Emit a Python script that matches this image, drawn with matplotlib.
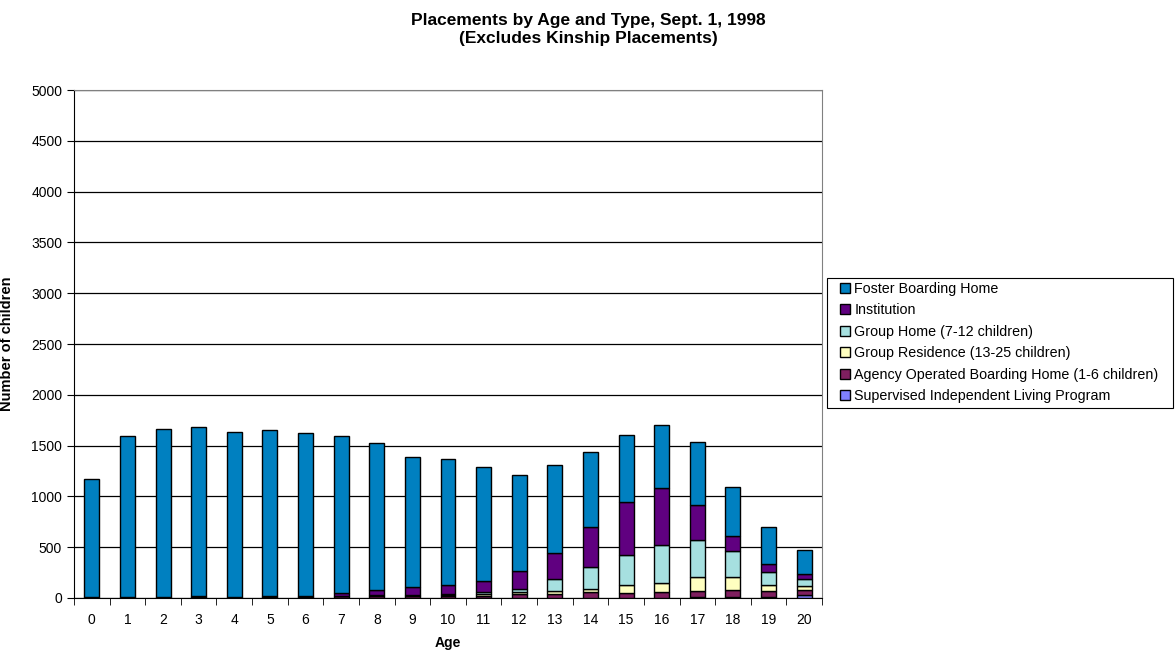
import numpy as np
import matplotlib.pyplot as plt
from matplotlib.patches import Rectangle

plt.rcParams['font.family'] = ['Liberation Sans', 'DejaVu Sans']

ages = list(range(21))

# children per placement type, ages 0..20
foster = [1163, 1582, 1655, 1665, 1627, 1635, 1598, 1537, 1455, 1280, 1235,
          1115, 945, 865, 745, 665, 620, 620, 475, 370, 240]
institution = [2, 3, 2, 5, 3, 8, 10, 30, 45, 75, 90,
               115, 180, 255, 390, 520, 555, 340, 155, 75, 45]
group_home = [0, 0, 0, 0, 0, 0, 0, 5, 5, 5, 10,
              20, 25, 120, 220, 295, 375, 365, 255, 130, 70]
group_residence = [0, 0, 0, 0, 0, 0, 0, 3, 5, 5, 10,
                   15, 20, 25, 30, 80, 95, 140, 125, 55, 45]
agency_home = [5, 10, 8, 10, 5, 12, 12, 15, 20, 20, 20,
               20, 40, 40, 55, 45, 55, 65, 75, 60, 50]
silp = [0, 0, 0, 0, 0, 0, 0, 0, 0, 0, 0,
        0, 0, 0, 0, 0, 0, 5, 5, 10, 25]

series = [
    ("Supervised Independent Living Program", silp, "#8080FF"),
    ("Agency Operated Boarding Home (1-6 children)", agency_home, "#7F1F5F"),
    ("Group Residence (13-25 children)", group_residence, "#FFFFC0"),
    ("Group Home (7-12 children)", group_home, "#A6E0E0"),
    ("Institution", institution, "#600080"),
    ("Foster Boarding Home", foster, "#0080C0"),
]

fig = plt.figure(figsize=(11.76, 6.58), dpi=100)
ax = fig.add_axes([0.0629, 0.0912, 0.6361, 0.772])

x = np.arange(len(ages))
bottom = np.zeros(len(ages))
handles = []
for name, vals, color in series:
    vals = np.array(vals, dtype=float)
    b = ax.bar(x, vals, width=0.42, bottom=bottom, color=color,
               edgecolor="black", linewidth=1.0, label=name, zorder=3)
    handles.append(b)
    bottom += vals

ax.set_ylim(0, 5000)
ax.set_xlim(-0.5, 20.5)
ax.set_yticks(np.arange(0, 5001, 500))
ax.yaxis.grid(True, color="black", linewidth=0.9, zorder=0)

ax.set_xticks(x)
ax.set_xticklabels([str(a) for a in ages], fontsize=10)
ax.set_xticks(np.arange(-0.5, 21, 1), minor=True)
ax.tick_params(axis="x", which="major", length=0, pad=11)
ax.tick_params(axis="x", which="minor", length=5, color="black", direction="out")
ax.tick_params(axis="y", length=5, direction="out", labelsize=10)

for side in ["top", "right"]:
    ax.spines[side].set_color("#808080")
ax.spines["left"].set_color("black")
ax.spines["bottom"].set_color("black")

ax.set_xlabel("Age", fontsize=10, fontweight="bold", labelpad=6)
ax.set_ylabel("Number of children", fontsize=10.5, fontweight="bold", labelpad=12)

fig.text(0.5, 0.955, "Placements by Age and Type, Sept. 1, 1998\n(Excludes Kinship Placements)",
         ha="center", va="center", fontsize=12.5, fontweight="bold", linespacing=1.25)

# legend box drawn separately so the entries can sit with a wider margin
fig.patches.append(Rectangle((0.7032, 0.3799), 0.2942, 0.1976, transform=fig.transFigure,
                             facecolor="white", edgecolor="black", linewidth=0.8))
leg = fig.legend(handles[::-1], [s[0] for s in series][::-1],
                 loc="center left", bbox_to_anchor=(0.7143, 0.4795),
                 fontsize=10.3, frameon=False,
                 handlelength=0.7, handleheight=0.7, handletextpad=0.3,
                 labelspacing=0.52, borderpad=0, borderaxespad=0)

fig.savefig("out.png", dpi=100)
